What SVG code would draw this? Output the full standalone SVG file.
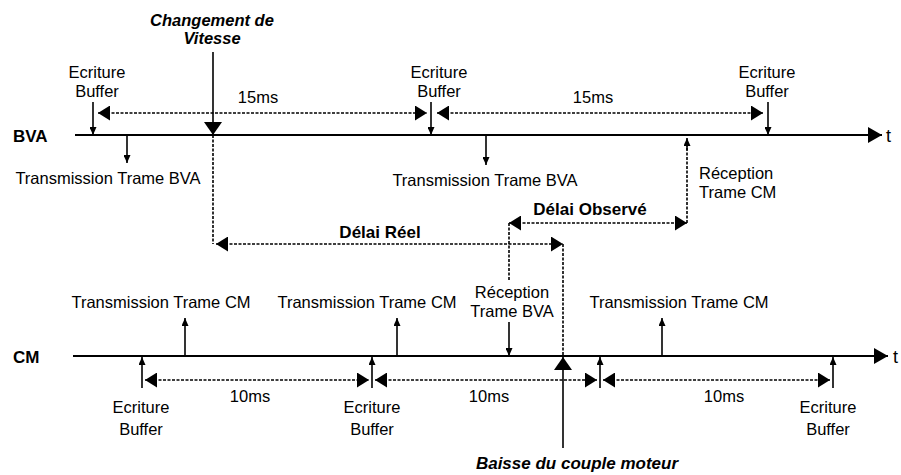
<svg xmlns="http://www.w3.org/2000/svg" width="901" height="475" viewBox="0 0 901 475">
<style>
  text { font-family: "Liberation Sans", Arial, sans-serif; fill: #000; }
  .lbl { font-size: 16.5px; }
  .tt { font-size: 18px; }
  .mid { text-anchor: middle; }
  .axt { font-size: 17px; font-weight: bold; }
  .dly { font-size: 17px; font-weight: bold; }
  .evt { font-size: 16.5px; font-weight: bold; font-style: italic; }
  .axis { stroke: #000; stroke-width: 2; fill: none; }
  .dash { stroke: #000; stroke-width: 1.6; stroke-dasharray: 3 1.5; fill: none; }
  .solid { stroke: #000; stroke-width: 1.6; fill: none; }
</style>
<defs>
  <marker id="dim" markerUnits="userSpaceOnUse" markerWidth="12" markerHeight="15" refX="12" refY="7.5" orient="auto-start-reverse">
    <path d="M0,0 L12,7.5 L0,15 z" fill="#000"/>
  </marker>
  <marker id="sm" markerUnits="userSpaceOnUse" markerWidth="8" markerHeight="7" refX="8" refY="3.5" orient="auto">
    <path d="M0,0 L8,3.5 L0,7 z" fill="#000"/>
  </marker>
  <marker id="big" markerUnits="userSpaceOnUse" markerWidth="13" markerHeight="18" refX="13" refY="9" orient="auto">
    <path d="M0,0 L13,9 L0,18 z" fill="#000"/>
  </marker>
  <marker id="ax" markerUnits="userSpaceOnUse" markerWidth="14" markerHeight="16" refX="14" refY="8" orient="auto">
    <path d="M0,0 L14,8 L0,16 z" fill="#000"/>
  </marker>
</defs>

<g id="connectors">
  <!-- axes -->
  <line class="axis" x1="75" y1="135" x2="882" y2="135" marker-end="url(#ax)"/>
  <line class="axis" x1="73" y1="356" x2="888" y2="356" marker-end="url(#ax)"/>

  <!-- BVA: Ecriture Buffer arrows -->
  <line class="solid" x1="93" y1="102" x2="93" y2="135" marker-end="url(#sm)"/>
  <line class="solid" x1="431" y1="102" x2="431" y2="135" marker-end="url(#sm)"/>
  <line class="solid" x1="768" y1="102" x2="768" y2="135" marker-end="url(#sm)"/>

  <!-- BVA: 15ms dimensions -->
  <line class="dash" x1="98" y1="113" x2="427" y2="113" marker-start="url(#dim)" marker-end="url(#dim)"/>
  <line class="dash" x1="437" y1="113" x2="763" y2="113" marker-start="url(#dim)" marker-end="url(#dim)"/>

  <!-- BVA: Transmission Trame BVA arrows -->
  <line class="solid" x1="127" y1="135" x2="127" y2="163" marker-end="url(#sm)"/>
  <line class="solid" x1="486" y1="135" x2="486" y2="165" marker-end="url(#sm)"/>

  <!-- Changement de Vitesse -->
  <line class="solid" x1="213" y1="52" x2="213" y2="135" marker-end="url(#big)"/>
  <line class="dash" x1="213" y1="135" x2="213" y2="244"/>

  <!-- Délai Réel -->
  <line class="dash" x1="216" y1="244" x2="563" y2="244" marker-start="url(#dim)" marker-end="url(#dim)"/>
  <line class="dash" x1="563" y1="244" x2="563" y2="356"/>

  <!-- Baisse du couple moteur -->
  <line class="solid" x1="563" y1="448" x2="563" y2="357" marker-end="url(#big)"/>

  <!-- Réception Trame CM -->
  <line class="dash" x1="687" y1="223" x2="687" y2="146"/>
  <line class="solid" x1="687" y1="150" x2="687" y2="138" marker-end="url(#sm)"/>

  <!-- Délai Observé -->
  <line class="dash" x1="509" y1="223" x2="687" y2="223" marker-start="url(#dim)" marker-end="url(#dim)"/>
  <line class="dash" x1="509" y1="223" x2="509" y2="281"/>

  <!-- Réception Trame BVA -->
  <line class="solid" x1="509" y1="322" x2="509" y2="356" marker-end="url(#sm)"/>

  <!-- CM: Transmission Trame CM arrows -->
  <line class="solid" x1="185" y1="356" x2="185" y2="318" marker-end="url(#sm)"/>
  <line class="solid" x1="397" y1="356" x2="397" y2="318" marker-end="url(#sm)"/>
  <line class="solid" x1="662" y1="356" x2="662" y2="318" marker-end="url(#sm)"/>

  <!-- CM: Ecriture Buffer arrows -->
  <line class="solid" x1="142" y1="388" x2="142" y2="357" marker-end="url(#sm)"/>
  <line class="solid" x1="372" y1="388" x2="372" y2="357" marker-end="url(#sm)"/>
  <line class="solid" x1="600" y1="388" x2="600" y2="357" marker-end="url(#sm)"/>
  <line class="solid" x1="833" y1="388" x2="833" y2="357" marker-end="url(#sm)"/>

  <!-- CM: 10ms dimensions -->
  <line class="dash" x1="145" y1="380" x2="369" y2="380" marker-start="url(#dim)" marker-end="url(#dim)"/>
  <line class="dash" x1="375" y1="380" x2="597" y2="380" marker-start="url(#dim)" marker-end="url(#dim)"/>
  <line class="dash" x1="603" y1="380" x2="830" y2="380" marker-start="url(#dim)" marker-end="url(#dim)"/>
</g>

<g id="bva-axis-label"><text class="axt" x="13" y="142">BVA</text><text class="tt" x="886" y="142">t</text></g>
<g id="cm-axis-label"><text class="axt" x="13" y="363">CM</text><text class="tt" x="893" y="363">t</text></g>

<g id="changement-vitesse">
  <text class="evt mid" x="212" y="26">Changement de</text>
  <text class="evt mid" x="212" y="44">Vitesse</text>
</g>
<g id="bva-ecriture-1">
  <text class="lbl mid" x="97" y="78">Ecriture</text>
  <text class="lbl mid" x="97" y="97">Buffer</text>
</g>
<g id="bva-ecriture-2">
  <text class="lbl mid" x="439" y="78">Ecriture</text>
  <text class="lbl mid" x="439" y="97">Buffer</text>
</g>
<g id="bva-ecriture-3">
  <text class="lbl mid" x="767" y="78">Ecriture</text>
  <text class="lbl mid" x="767" y="97">Buffer</text>
</g>
<g id="bva-15ms-1"><text class="lbl mid" x="258" y="103">15ms</text></g>
<g id="bva-15ms-2"><text class="lbl mid" x="593" y="103">15ms</text></g>
<g id="bva-transmission-1"><text class="lbl mid" x="108" y="184">Transmission Trame BVA</text></g>
<g id="bva-transmission-2"><text class="lbl mid" x="485" y="186">Transmission Trame BVA</text></g>
<g id="reception-trame-cm">
  <text class="lbl" x="699" y="179">Réception</text>
  <text class="lbl" x="699" y="198">Trame CM</text>
</g>
<g id="delai-observe"><text class="dly mid" x="590" y="215">Délai Observé</text></g>
<g id="delai-reel"><text class="dly mid" x="380" y="238">Délai Réel</text></g>
<g id="reception-trame-bva">
  <text class="lbl mid" x="512" y="298">Réception</text>
  <text class="lbl mid" x="512" y="317">Trame BVA</text>
</g>
<g id="cm-transmission-1"><text class="lbl mid" x="161" y="308">Transmission Trame CM</text></g>
<g id="cm-transmission-2"><text class="lbl mid" x="367" y="308">Transmission Trame CM</text></g>
<g id="cm-transmission-3"><text class="lbl mid" x="679" y="308">Transmission Trame CM</text></g>
<g id="cm-ecriture-1">
  <text class="lbl mid" x="141" y="413">Ecriture</text>
  <text class="lbl mid" x="141" y="435">Buffer</text>
</g>
<g id="cm-ecriture-2">
  <text class="lbl mid" x="372" y="413">Ecriture</text>
  <text class="lbl mid" x="372" y="435">Buffer</text>
</g>
<g id="cm-ecriture-4">
  <text class="lbl mid" x="828" y="413">Ecriture</text>
  <text class="lbl mid" x="828" y="435">Buffer</text>
</g>
<g id="cm-10ms-1"><text class="lbl mid" x="250" y="402">10ms</text></g>
<g id="cm-10ms-2"><text class="lbl mid" x="489" y="402">10ms</text></g>
<g id="cm-10ms-3"><text class="lbl mid" x="724" y="402">10ms</text></g>
<g id="baisse-couple">
  <text class="evt mid" x="577" y="469" style="font-size:17px">Baisse du couple moteur</text>
</g>
</svg>
